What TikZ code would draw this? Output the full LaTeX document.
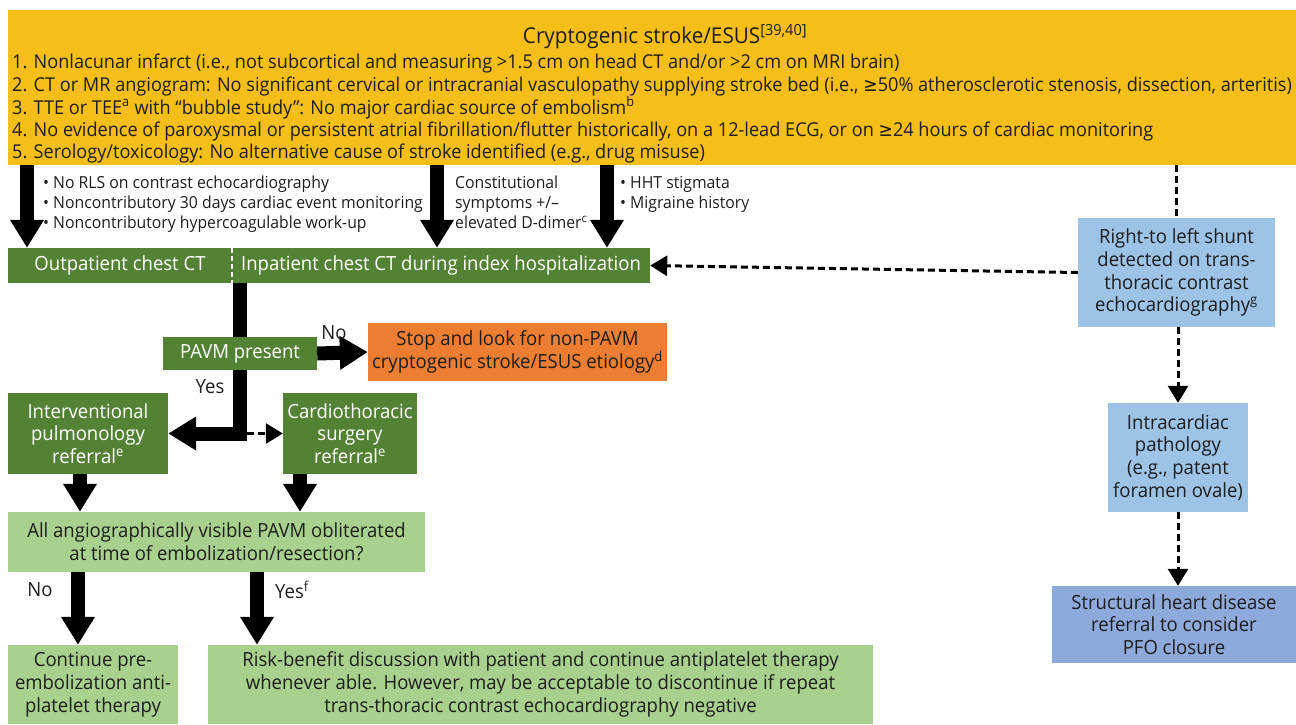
\documentclass[tikz,border=0pt]{standalone}
\usepackage{fontspec}
\setmainfont{Open Sans}[FakeStretch=0.95]
\newfontfamily\symb{DejaVu Sans}[FakeStretch=0.9]
\usetikzlibrary{arrows.meta}
\usetikzlibrary{backgrounds}
\definecolor{jaune}{RGB}{245,190,25}
\definecolor{vertfonce}{RGB}{84,130,53}
\definecolor{vertclair}{RGB}{169,209,142}
\definecolor{orange}{RGB}{237,125,49}
\definecolor{bleuclair}{RGB}{157,195,230}
\definecolor{bleu}{RGB}{142,169,219}
\definecolor{texte}{RGB}{30,30,30}
\newcommand{\sy}{\textsuperscript}
\newcommand{\supeg}{{\symb ≥}}

\begin{document}
\begin{tikzpicture}[x=1pt,y=-1pt]
\tikzstyle{fleche}=[line width=14pt,line join=miter,-{Triangle[length=28pt,width=32pt]}]
\tikzstyle{lien}=[line width=3pt,dash pattern=on 7pt off 4pt,-{Triangle[length=17pt,width=20pt]}]
\tikzset{boite/.style={fill=#1,text=texte,inner sep=0pt,align=center,
font=\fontsize{19.5}{22.8}\selectfont},
boite/.default={vertclair},
note/.style={anchor=north west,inner sep=0pt,align=left,text=texte,
font=\fontsize{16.6}{19.8}\selectfont},
libelle/.style={text=texte,inner sep=0pt,font=\fontsize{19.5}{22}\selectfont}}
\useasboundingbox (0,0) rectangle (1296,724);
% critères
\node [boite=jaune,minimum width=1288pt,minimum height=155pt] (haut) at (652,87.5) {};
\node [inner sep=0pt,text=texte,font=\fontsize{21.8}{24}\selectfont] (titre) at (665,36.5)
{Cryptogenic stroke/ESUS\sy{[39,40]}};
\node [note,font=\fontsize{19.1}{22.2}\selectfont] (liste) at (12,54)
{1. Nonlacunar infarct (i.e., not subcortical and measuring >1.5 cm on head CT and/or >2 cm on MRI brain)\\
2. CT or MR angiogram: No significant cervical or intracranial vasculopathy supplying stroke bed (i.e., \supeg50\% atherosclerotic stenosis, dissection, arteritis)\\
3. TTE or TEE\sy{a} with “bubble study”: No major cardiac source of embolism\sy{b}\\
4. No evidence of paroxysmal or persistent atrial fibrillation/flutter historically, on a 12-lead ECG, or on \supeg24 hours of cardiac monitoring\\
5. Serology/toxicology: No alternative cause of stroke identified (e.g., drug misuse)};
% imagerie
\node [boite=vertfonce,text=white,minimum width=224pt,minimum height=35pt] (ambu) at (120,265.5) {Outpatient chest CT};
\node [boite=vertfonce,text=white,minimum width=418pt,minimum height=35pt] (hospi) at (441,265.5) {Inpatient chest CT during index hospitalization};
\draw [white,line width=2pt,dash pattern=on 5pt off 3pt] (ambu.north east) -- (ambu.south east);
\node [note] (raison1) at (43,176) {• No RLS on contrast echocardiography\\
• Noncontributory 30 days cardiac event monitoring\\
• Noncontributory hypercoagulable work-up};
\node [note] (raison2) at (455,176) {Constitutional\\symptoms +/–\\elevated D-dimer\sy{c}};
\node [note] (raison3) at (620,176) {• HHT stigmata\\• Migraine history};
% PAVM
\node [boite=vertfonce,text=white,minimum width=154pt,minimum height=33pt] (pavm) at (240,353.5) {PAVM present};
\node [boite=orange,minimum width=299pt,minimum height=58pt] (stop) at (517.5,352) {Stop and look for non-PAVM\\cryptogenic stroke/ESUS etiology\sy{d}};
\node [boite=vertfonce,text=white,minimum width=160pt,minimum height=81pt] (interv) at (88,433.5) {Interventional\\pulmonology\\referral\sy{e}};
\node [boite=vertfonce,text=white,minimum width=134pt,minimum height=81pt] (chir) at (350,433.5) {Cardiothoracic\\surgery\\referral\sy{e}};
\node [boite,minimum width=417pt,minimum height=60pt] (bilan) at (216.5,542) {All angiographically visible PAVM obliterated\\at time of embolization/resection?};
\node [boite,minimum width=170pt,minimum height=79pt] (suite) at (93,684.5) {Continue pre-\\embolization anti-\\platelet therapy};
\node [boite,minimum width=665pt,minimum height=79pt] (risque) at (540.5,684.5) {Risk-benefit discussion with patient and continue antiplatelet therapy\\whenever able. However, may be acceptable to discontinue if repeat\\trans-thoracic contrast echocardiography negative};
% shunt
\node [boite=bleuclair,minimum width=197pt,minimum height=109pt] (shunt) at (1176.5,272.5) {Right-to left shunt\\detected on trans-\\thoracic contrast\\echocardiography\sy{g}};
\node [boite=bleuclair,minimum width=140pt,minimum height=109pt] (intra) at (1178,457.5) {Intracardiac\\pathology\\(e.g., patent\\foramen ovale)};
\node [boite=bleu,minimum width=244pt,minimum height=77pt] (structure) at (1174,624.5) {Structural heart disease\\referral to consider\\PFO closure};
% libellés
\node [libelle] (non1) at (334,333) {No};
\node [libelle] (oui1) at (210,387) {Yes};
\node [libelle] (non2) at (40,590) {No};
\node [libelle] (oui2) at (292,590) {Yes\sy{f}};
% flèches
\begin{scope}[on background layer]
\draw [fleche] (haut.south -| 27,0) -- (ambu.north -| 27,0);
\draw [fleche] (haut.south -| 437,0) -- (hospi.north -| 437,0);
\draw [fleche] (haut.south -| 607,0) -- (hospi.north -| 607,0);
\draw [fleche] (hospi.south -| pavm.center) |- (interv.east);
\draw [fleche] (pavm.east) -- (stop.west);
\draw [fleche] (interv.south -| 80,0) -- (bilan.north -| 80,0);
\draw [fleche] (chir.south -| 300,0) -- (bilan.north -| 300,0);
\draw [fleche] (bilan.south -| 78,0) -- (suite.north -| 78,0);
\draw [fleche] (bilan.south -| 257,0) -- (risque.north -| 257,0);
\draw [lien] ([xshift=7pt]pavm.center |- chir.west) -- (chir.west);
\draw [lien,-] (haut.south -| shunt.north) -- (shunt.north);
\draw [lien] (shunt.west) -- (hospi.east);
\draw [lien] (shunt.south -| intra.north) -- (intra.north);
\draw [lien] (intra.south) -- (structure.north -| intra.south);
\end{scope}
\end{tikzpicture}
\end{document}
